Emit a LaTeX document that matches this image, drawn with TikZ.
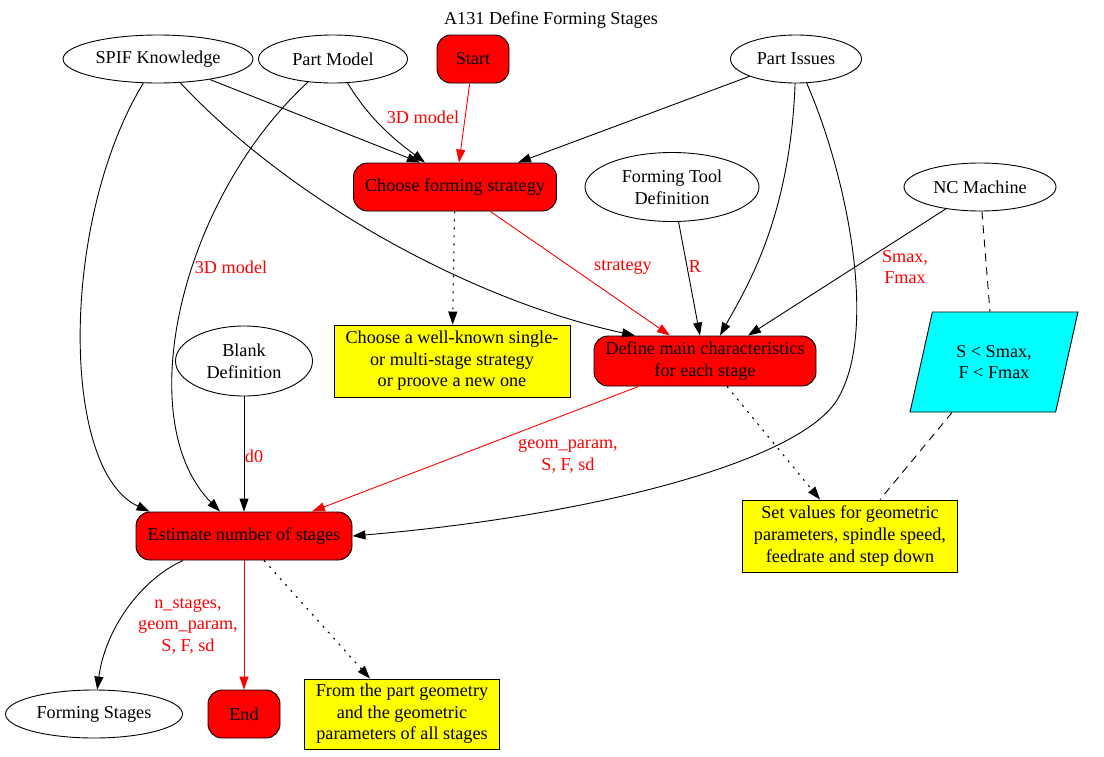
\documentclass[tikz,border=0pt]{standalone}
\usepackage{fontspec}
\setmainfont{Liberation Serif}
\usetikzlibrary{arrows.meta, shapes.geometric}

\definecolor{taskred}{RGB}{255,0,0}
\definecolor{noteyellow}{RGB}{255,255,0}
\definecolor{limitcyan}{RGB}{0,255,255}

\begin{document}
\begin{tikzpicture}[
    x=1pt,
    y=-1pt,
    every node/.style={
        font=\fontsize{18.2}{21.6}\selectfont,
        align=center,
    },
    source/.style={
        ellipse,
        draw,
        line width=0.9pt,
        inner sep=0pt,
        minimum height=48pt,
    },
    task/.style={
        rectangle,
        rounded corners=14pt,
        draw,
        line width=0.9pt,
        fill=taskred,
        inner sep=0pt,
        minimum height=48pt,
    },
    note/.style={
        rectangle,
        draw,
        line width=0.9pt,
        fill=noteyellow,
        inner sep=0pt,
    },
    flow/.style={
        line width=0.9pt,
        -{Triangle[length=13pt,width=9pt]},
    },
    sparse dots/.style={
        line width=1.1pt,
        dash pattern=on 2pt off 6pt,
    },
    long dashes/.style={
        line width=0.9pt,
        dash pattern=on 8pt off 6pt,
    },
    tag/.style={
        text=taskred,
        inner sep=1pt,
    }
]
    \useasboundingbox (0,0) rectangle (1104,756);

    % Title
    \node (title) at (551,20) {A131 Define Forming Stages};

    % Inputs
    \node[source, minimum width=190pt] (spif) at (158,59) {SPIF Knowledge};
    \node[source, minimum width=149pt] (partmodel) at (333,59) {Part Model};
    \node[task, minimum width=72pt] (start) at (473,59) {Start};
    \node[source, minimum width=131pt] (partissues) at (796,59) {Part Issues};
    \node[source, minimum width=174pt, minimum height=69pt] (tooldef) at (672,187) {Forming Tool\\Definition};
    \node[source, minimum width=152pt] (ncmachine) at (980,187) {NC Machine};
    \node[source, minimum width=137pt, minimum height=70pt] (blankdef) at (244,361) {Blank\\Definition};

    % Activities
    \node[task, minimum width=203pt] (choose) at (455,187) {Choose forming strategy};
    \node[task, minimum width=222pt, minimum height=50pt] (define) at (705,361) {Define main characteristics\\for each stage};
    \node[task, minimum width=216pt] (estimate) at (244,536) {Estimate number of stages};
    \node[task, minimum width=72pt] (finish) at (244,714) {End};

    % Outputs and notes
    \node[source, minimum width=177pt] (stages) at (94,714) {Forming Stages};
    \node[note, minimum width=236pt, minimum height=72pt] (wellknown) at (452,361) {Choose a well-known single-\\or multi-stage strategy\\or proove a new one};
    \node[note, minimum width=215pt, minimum height=72pt] (setvalues) at (850,536) {Set values for geometric\\parameters, spindle speed,\\feedrate and step down};
    \node[note, minimum width=195pt, minimum height=70pt] (frompart) at (402,714) {From the part geometry\\and the geometric\\parameters of all stages};
    \node[trapezium, trapezium left angle=68, trapezium right angle=112,
          trapezium stretches=true, draw, line width=0.9pt, fill=limitcyan,
          minimum width=168pt, minimum height=100pt, inner sep=0pt] (limits) at (994,362) {S < Smax,\\F < Fmax};

    % Connectors into the strategy
    \draw[flow] (spif) -- ([xshift=-35pt]choose.north);
    \draw[flow] (partmodel) .. controls (370,120) and (395,140) .. ([xshift=-30pt]choose.north);
    \draw[flow, taskred] (start) -- ([xshift=4pt]choose.north);
    \draw[flow] (partissues) -- ([xshift=63pt]choose.north);
    \draw[flow, sparse dots] (choose) -- (wellknown);

    % Connectors into the characteristics
    \draw[flow] (spif) .. controls (290,200) and (470,300) .. (define.160);
    \draw[flow, taskred] (choose) -- ([xshift=-35pt]define.north);
    \draw[flow] (tooldef) -- ([xshift=-5pt]define.north);
    \draw[flow] (partissues) .. controls (790,220) and (745,290) .. ([xshift=15pt]define.north);
    \draw[flow] (ncmachine) -- ([xshift=43pt]define.north);
    \draw[long dashes] (ncmachine) -- (limits);
    \draw[flow, sparse dots] ([xshift=22pt]define.south) -- ([xshift=-30pt]setvalues.north);
    \draw[long dashes] ([xshift=-42pt]limits.south) -- ([xshift=30pt]setvalues.north);

    % Connectors into the estimate
    \draw[flow] (spif) .. controls (60,220) and (60,470) .. ([xshift=14pt]estimate.north west);
    \draw[flow] (partmodel) .. controls (180,200) and (130,420) .. ([xshift=-24pt]estimate.north);
    \draw[flow] (blankdef) -- (estimate);
    \draw[flow, taskred] (define) -- ([xshift=68pt]estimate.north);
    \draw[flow] (partissues) .. controls (845,170) and (880,330) .. (837,400)
        .. controls (800,460) and (600,515) .. (estimate.east);

    % Connectors out of the estimate
    \draw[flow] ([xshift=-61pt]estimate.south) .. controls (140,580) and (105,630) .. (stages);
    \draw[flow, taskred] (estimate) -- (finish);
    \draw[flow, sparse dots] ([xshift=20pt]estimate.south) -- ([xshift=-32pt]frompart.north);

    % Connector labels
    \node[tag] (lblmodela) at (423,117) {3D model};
    \node[tag] (lblmodelb) at (231,267) {3D model};
    \node[tag] (lblstrategy) at (623,267) {strategy};
    \node[tag] (lblradius) at (695,267) {R};
    \node[tag] (lblmax) at (905,267) {Smax,\\Fmax};
    \node[tag] (lbldzero) at (254,456) {d0};
    \node[tag] (lblgeom) at (568,456) {geom\_param,\\S, F, sd};
    \node[tag] (lblstages) at (188,626) {n\_stages,\\geom\_param,\\S, F, sd};
\end{tikzpicture}
\end{document}
